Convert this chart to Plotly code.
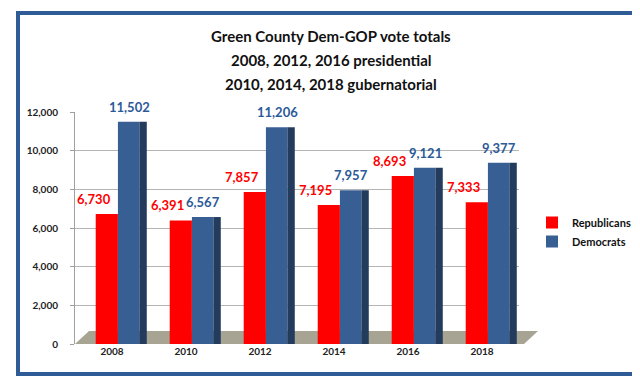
import plotly.graph_objects as go

years = ["2008", "2010", "2012", "2014", "2016", "2018"]
republicans = [6730, 6391, 7857, 7195, 8693, 7333]
democrats = [11502, 6567, 11206, 7957, 9121, 9377]
title_lines = ["Green County Dem-GOP vote totals",
               "2008, 2012, 2016 presidential",
               "2010, 2014, 2018 gubernatorial"]

RED = "#FF0000"
BLUE = "#385F94"
SIDE = "#233C5E"
FONT = "Lato"

W, H = 640, 380
L, R, T, B = 67, 129, 104, 44
PW, PH = W - L - R, H - T - B

def px_x(px):
    return (px - L) / PW

def px_y(py):
    return (H - B - py) / PH

xs = list(range(len(years)))

fig = go.Figure()
fig.add_trace(go.Bar(x=xs, y=republicans, name="<b>Republicans</b>",
                     marker=dict(color=RED, line=dict(width=0)),
                     offset=-0.22, width=0.30))
fig.add_trace(go.Bar(x=xs, y=democrats, name="<b>Democrats</b>",
                     marker=dict(color=BLUE, line=dict(width=0)),
                     offset=0.08, width=0.29))
fig.add_trace(go.Bar(x=xs, y=democrats, showlegend=False, hoverinfo="skip",
                     marker=dict(color=SIDE, line=dict(width=0)),
                     offset=0.37, width=0.10))

annotations = []
for i, v in enumerate(republicans):
    annotations.append(dict(x=xs[i] - 0.25, y=v, xref="x", yref="y",
                            text=f"<b>{v:,}</b>", showarrow=False, yshift=15,
                            font=dict(family=FONT, size=13, color=RED)))
for i, v in enumerate(democrats):
    annotations.append(dict(x=xs[i] + 0.23, y=v, xref="x", yref="y",
                            text=f"<b>{v:,}</b>", showarrow=False, yshift=15,
                            font=dict(family=FONT, size=13, color="#2C5A98")))
for k, (line, py) in enumerate(zip(title_lines, [28, 52, 76])):
    annotations.append(dict(x=px_x(323), y=px_y(py), xref="paper", yref="paper",
                            text=f"<b>{line}</b>", showarrow=False,
                            xanchor="center", yanchor="middle",
                            font=dict(family=FONT, size=15, color="#111111")))

shapes = [
    # floor
    dict(type="path", xref="paper", yref="paper", layer="below",
         path=f"M {px_x(67)},{px_y(336)} L {px_x(81)},{px_y(323)} "
              f"L {px_x(530)},{px_y(323)} L {px_x(516)},{px_y(336)} Z",
         fillcolor="#A8A493", line=dict(width=0)),
    # frame
    dict(type="rect", xref="paper", yref="paper",
         x0=px_x(10), x1=px_x(629), y0=px_y(366), y1=px_y(5),
         line=dict(color="#2F5B97", width=4), fillcolor="rgba(0,0,0,0)"),
]

fig.update_layout(
    width=W, height=H,
    margin=dict(l=L, r=R, t=T, b=B),
    paper_bgcolor="white", plot_bgcolor="white",
    barmode="overlay",
    showlegend=True,
    legend=dict(x=px_x(524), y=px_y(200), xanchor="left", yanchor="top",
                font=dict(family=FONT, size=11, color="#111111"),
                tracegroupgap=0, itemwidth=30, bgcolor="rgba(0,0,0,0)"),
    font=dict(family=FONT),
    annotations=annotations,
    shapes=shapes,
    xaxis=dict(tickvals=xs, ticktext=[f"<b>{y}</b>" for y in years],
               range=[-0.5, len(years) - 0.5], showgrid=False, zeroline=False,
               showline=False, ticks="",
               tickfont=dict(family=FONT, size=10, color="#222222")),
    yaxis=dict(range=[0, 12000], dtick=2000, tickformat=",d",
               showgrid=True, gridcolor="#B5B5B5", gridwidth=1,
               zeroline=False, showline=True, linecolor="#A0A0A0",
               ticks="outside", ticklen=4, tickcolor="#A0A0A0",
               ticklabelstandoff=10,
               tickfont=dict(family=FONT, size=10, color="#222222", weight="bold")),
)

fig.write_html("out.html")
